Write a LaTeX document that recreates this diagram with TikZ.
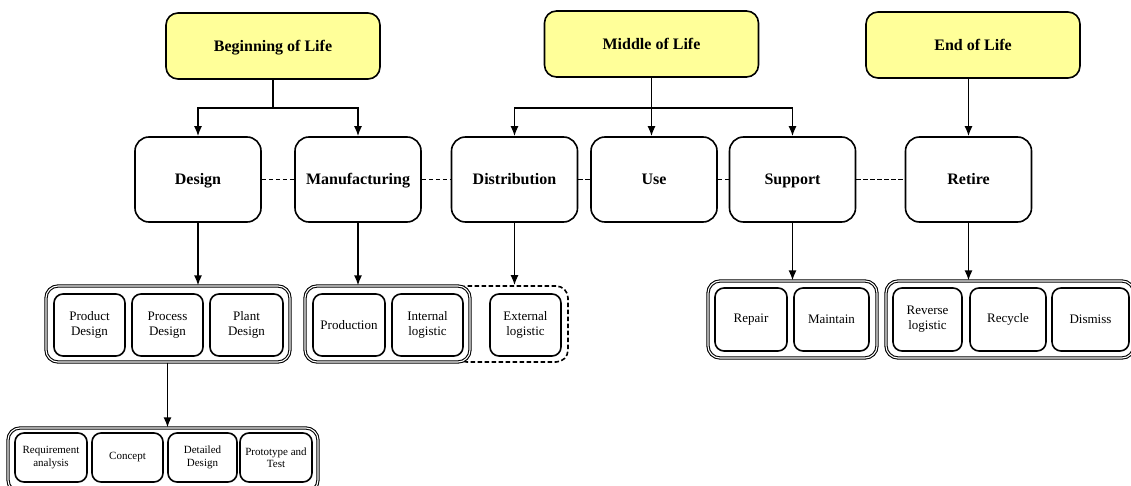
\documentclass[tikz,border=0pt]{standalone}
\usepackage{fontspec}
\setmainfont{Liberation Serif}
\usepackage{xcolor}
\usetikzlibrary{shapes, arrows.meta, positioning, calc}
\definecolor{lifeyellow}{RGB}{255,255,153}
\tikzset{
  phase/.style={draw, line width=1.6pt, fill=lifeyellow, rounded corners=12pt, minimum width=214pt, minimum height=66pt, text height=13pt, text depth=2pt, font=\fontsize{16}{18}\selectfont\bfseries},
  stage/.style={draw, line width=1.6pt, rounded corners=14pt, minimum width=126pt, minimum height=85pt, text height=13pt, text depth=2pt, font=\fontsize{16}{18}\selectfont\bfseries},
  item/.style={draw, line width=1.6pt, rounded corners=9pt, minimum height=62pt, align=center, inner sep=1pt, font=\fontsize{13}{15}\selectfont},
  subitem/.style={item, minimum height=49pt, font=\fontsize{11}{12.5}\selectfont},
  group/.style={draw, line width=1.1pt, double, double distance=1.1pt, rounded corners=12pt, fill=white},
  extgroup/.style={draw, line width=1.6pt, dash pattern=on 4.5pt off 2.5pt, rounded corners=12pt},
  link/.style={line width=1.5pt, dash pattern=on 4.5pt off 2.5pt},
  flow/.style={line width=1.6pt, -{Latex[length=10pt,width=8pt]}},
}
\begin{document}
\begin{tikzpicture}[x=1pt, y=-1pt]
      \useasboundingbox (0,0) rectangle (1131,486);
      \clip (0,0) rectangle (1131,486);

      \node [phase] (bol) at (273,46) {Beginning of Life};
      \node [phase] (mol) at (651.5,44) {Middle of Life};
      \node [phase] (eol) at (973,45) {End of Life};

      \node [stage] (design) at (198,179.5) {Design};
      \node [stage] (manuf) at (358,179.5) {Manufacturing};
      \node [stage] (dist) at (514.5,179.5) {Distribution};
      \node [stage] (use) at (654,179.5) {Use};
      \node [stage] (support) at (792.5,179.5) {Support};
      \node [stage] (retire) at (968.5,179.5) {Retire};

      \node [extgroup, minimum width=113pt, minimum height=76pt] (ext) at (511.5,324) {};
      \node [group, minimum width=244pt, minimum height=76pt] (g1) at (168,324) {};
      \node [group, minimum width=165pt, minimum height=76pt] (g2) at (387.5,324) {};
      \node [group, minimum width=169pt, minimum height=77pt] (g3) at (792.5,319.5) {};
      \node [group, minimum width=248pt, minimum height=77pt] (g4) at (1010,319.5) {};
      \node [group, minimum width=310pt, minimum height=64pt] (g5) at (163,460) {};

      \node [item, minimum width=71pt] (prodd) at (89.5,325) {Product\\Design};
      \node [item, minimum width=71pt] (procd) at (167.5,325) {Process\\Design};
      \node [item, minimum width=73pt] (plantd) at (246.5,325) {Plant\\Design};
      \node [item, minimum width=72pt] (prodn) at (349,325) {Production};
      \node [item, minimum width=71pt] (intlog) at (427.5,325) {Internal\\logistic};
      \node [item, minimum width=71pt] (extlog) at (525.5,325) {External\\logistic};
      \node [item, minimum width=72pt, minimum height=63pt] (repair) at (751,319.5) {Repair};
      \node [item, minimum width=75pt, minimum height=63pt] (maintain) at (831.5,319.5) {Maintain};
      \node [item, minimum width=69pt, minimum height=63pt] (revlog) at (927.5,319.5) {Reverse\\logistic};
      \node [item, minimum width=76pt, minimum height=63pt] (recycle) at (1008,319.5) {Recycle};
      \node [item, minimum width=77pt, minimum height=63pt] (dismiss) at (1090.5,319.5) {Dismiss};
      \node [subitem, minimum width=72pt] (reqan) at (51,457.5) {Requirement\\analysis};
      \node [subitem, minimum width=71pt] (concept) at (127.5,457.5) {Concept};
      \node [subitem, minimum width=69pt] (detd) at (202.5,457.5) {Detailed\\Design};
      \node [subitem, minimum width=72pt] (proto) at (276,457.5) {Prototype and\\Test};

      \coordinate (bolsplit) at (273,108);
      \coordinate (molsplit) at (651.5,108);
      \draw [line width=1.6pt] (bol) -- (bolsplit);
      \draw [flow] (bolsplit) -| (design.north);
      \draw [flow] (bolsplit) -| (manuf.north);
      \draw [flow] (mol) -- (mol.south |- use.north);
      \draw [flow] (molsplit) -| (dist.north);
      \draw [flow] (molsplit) -| (support.north);
      \draw [flow] (retire.north |- eol.south) -- (retire);

      \foreach \a/\b in {design/manuf, manuf/dist, dist/use, use/support, support/retire}
        \draw [link] (\a) -- (\b);

      \draw [flow] (design) -- (design.south |- g1.north);
      \draw [flow] (manuf) -- (manuf.south |- g2.north);
      \draw [flow] (dist) -- (dist.south |- ext.north);
      \draw [flow] (support) -- (support.south |- g3.north);
      \draw [flow] (retire) -- (retire.south |- g4.north);
      \draw [flow] (procd |- g1.south) -- (procd |- g5.north);
\end{tikzpicture}
\end{document}
